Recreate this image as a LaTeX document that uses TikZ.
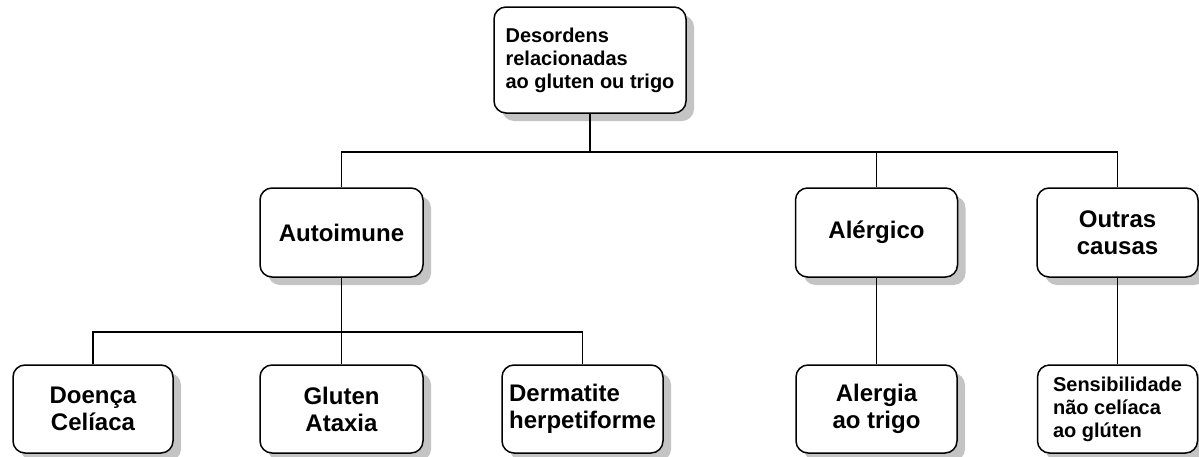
\documentclass[tikz,border=0pt]{standalone}
\usepackage{fontspec}
\setmainfont{Liberation Sans}
\usetikzlibrary{shadows}
\definecolor{shadowgray}{HTML}{C4C4C4}
\tikzset{
  box/.style={draw, line width=1.5pt, rounded corners=12pt, fill=white,
    inner sep=0pt, align=center, font=\fontsize{24}{27}\selectfont\bfseries,
    drop shadow={shadow xshift=8pt, shadow yshift=-8pt, fill=shadowgray, opacity=1}},
  smalltext/.style={font=\fontsize{20}{23}\selectfont\bfseries},
  conn/.style={line width=1.4pt}
}
\begin{document}
\begin{tikzpicture}[x=1pt,y=-1pt]
\useasboundingbox (0,0) rectangle (1199,456);
\node[box, smalltext, align=left, minimum width=192pt, minimum height=106pt] (top) at (590,60)
  {Desordens\\relacionadas\\ao gluten ou trigo};
\node[box, minimum width=163pt, minimum height=89pt] (auto) at (341.5,232.5) {Autoimune};
\node[box, minimum width=162pt, minimum height=89pt] (aler) at (876.5,232.5) {Alérgico};
\node[box, minimum width=161pt, minimum height=89pt] (outras) at (1117.5,232.5) {Outras\\causas};
\node[box, minimum width=160pt, minimum height=88pt] (doenca) at (93,409) {Doença\\Celíaca};
\node[box, minimum width=163pt, minimum height=88pt] (gluten) at (341.5,409) {Gluten\\Ataxia};
\node[box, align=left, minimum width=161pt, minimum height=88pt] (derm) at (582.5,409) {Dermatite\\herpetiforme};
\node[box, minimum width=161pt, minimum height=88pt] (alergia) at (876.5,409) {Alergia\\ao trigo};
\node[box, smalltext, align=left, minimum width=160pt, minimum height=88pt] (sens) at (1117.5,409) {Sensibilidade\\não celíaca\\ao glúten};
\coordinate (b1) at (590,152);
\coordinate (b2) at (341.5,332);
\draw[conn] (top.south) -- (b1);
\draw[conn] (b1) -| (auto.north);
\draw[conn] (b1) -| (outras.north);
\draw[conn] (aler.north) -- (aler.north |- b1);
\draw[conn] (auto.south) -- (b2);
\draw[conn] (b2) -| (doenca.north);
\draw[conn] (b2) -| (derm.north);
\draw[conn] (b2) -- (gluten.north);
\draw[conn] (aler.south) -- (alergia.north);
\draw[conn] (outras.south) -- (sens.north);
\end{tikzpicture}
\end{document}
